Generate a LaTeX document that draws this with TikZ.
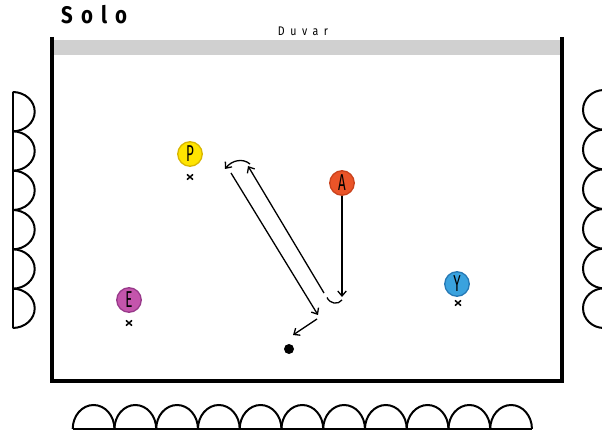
\documentclass[tikz,border=0pt]{standalone}
\usepackage{fontspec}
\setmainfont{Fira Sans}
\usetikzlibrary{arrows.meta}
\definecolor{wallgray}{HTML}{D0D0D0}
\definecolor{pyellow}{HTML}{FFE400}
\definecolor{pyellowd}{HTML}{D8B600}
\definecolor{pred}{HTML}{EA5428}
\definecolor{predd}{HTML}{C9421C}
\definecolor{ppink}{HTML}{C455AC}
\definecolor{ppinkd}{HTML}{98398A}
\definecolor{pblue}{HTML}{3AA2DE}
\definecolor{pblued}{HTML}{2678B4}
\tikzset{
  player/.style={circle, minimum size=24.5pt, inner sep=0pt, line width=1.3pt,
    font=\fontsize{23}{23}\selectfont},
  wall/.style={line width=4pt},
  seat/.style={line width=2pt},
  run/.style={line width=1.3pt, -{Straight Barb[length=5pt,width=8.5pt,line width=1.3pt]}},
  cross/.style={line width=1.5pt},
}
\newcommand{\plabel}[1]{\scalebox{0.58}[1]{#1}}
\newcommand{\crossat}[2]{\draw[cross] (#1-3,#2-2.6) -- (#1+3,#2+2.6) (#1-3,#2+2.6) -- (#1+3,#2-2.6);}
\begin{document}
\begin{tikzpicture}[x=1pt, y=-1pt]
\useasboundingbox (0,0) rectangle (602,435);

% title and wall label
\node[anchor=west, inner sep=0pt] (title) at (61,15)
  {\scalebox{0.85}[1]{\fontsize{24}{24}\selectfont\bfseries\addfontfeature{LetterSpace=40}Solo}};
\node[inner sep=0pt] (duvar) at (303,31)
  {\scalebox{0.85}[1]{\fontsize{12.5}{12.5}\selectfont\addfontfeature{LetterSpace=52}Duvar}};

% court
\fill[wallgray] (52,40) rectangle (562,55);
\draw[wall] (52,37) -- (52,381) -- (562,381) -- (562,37);

% seats on the left
\draw[seat] (12.7,92) -- (12.7,328);
\foreach \i in {0,...,5}
  \draw[seat] (12.7,92+39.33*\i) arc[start angle=-90, end angle=90, x radius=22, y radius=19.67];

% seats on the right
\draw[seat] (604,90) -- (604,328);
\foreach \i in {0,...,5}
  \draw[seat] (604,90+39.67*\i) arc[start angle=-90, end angle=-270, x radius=21, y radius=19.83];

% seats along the bottom
\draw[seat] (72.7,429) -- (532,429);
\foreach \i in {0,...,10}
  \draw[seat] (72.7+41.75*\i,429) arc[start angle=180, end angle=360, x radius=20.875, y radius=24];

% players
\node[player, fill=pyellow, draw=pyellowd] (P) at (190,154) {\plabel{P}};
\node[player, fill=pred, draw=predd] (A) at (342,183) {\plabel{A}};
\node[player, fill=ppink, draw=ppinkd] (E) at (129,300) {\plabel{E}};
\node[player, fill=pblue, draw=pblued] (Y) at (457,284) {\plabel{Y}};
\crossat{190}{177}
\crossat{129}{323}
\crossat{458}{303}

% ball
\node[circle, fill=black, minimum size=10pt, inner sep=0pt] (ball) at (289,349) {};

% movement path
\coordinate (a1) at (342,297);
\coordinate (h1) at (327,297.5);
\coordinate (h2) at (342,300);
\coordinate (u0) at (324,293);
\coordinate (u1) at (248,166);
\coordinate (t0) at (250,164);
\coordinate (t1) at (225,169);
\coordinate (d0) at (231,173);
\coordinate (d1) at (318,315);
\coordinate (s0) at (317,319);
\coordinate (s1) at (293,335);

\draw[run] (A) -- (a1);
\draw[line width=1.3pt] (h1) .. controls (330,304) and (338,305) .. (h2);
\draw[run] (u0) -- (u1);
\draw[run] (t0) .. controls (243,158) and (232,160) .. (t1);
\draw[run] (d0) -- (d1);
\draw[run] (s0) -- (s1);
\end{tikzpicture}
\end{document}
